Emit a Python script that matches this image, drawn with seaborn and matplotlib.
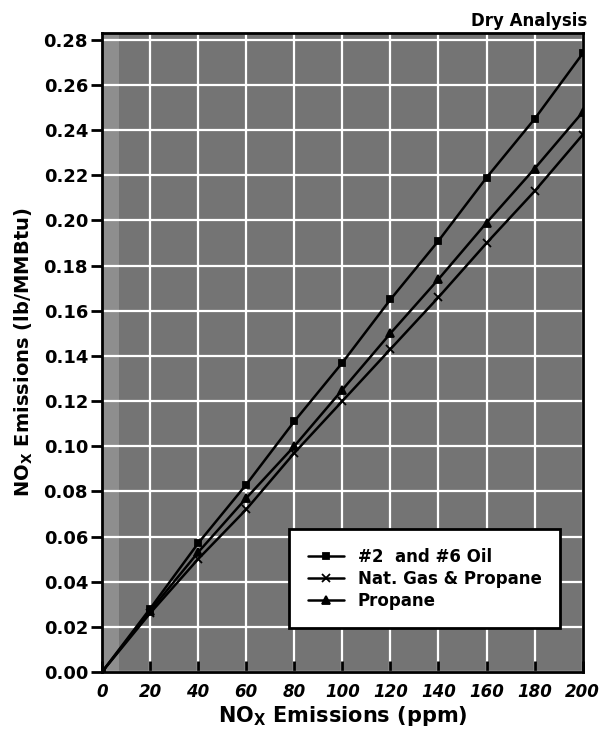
import matplotlib
matplotlib.use("Agg")
import matplotlib.pyplot as plt
import seaborn as sns
import pandas as pd

ppm = [0, 20, 40, 60, 80, 100, 120, 140, 160, 180, 200]
oil = [0.0, 0.028, 0.057, 0.083, 0.111, 0.137, 0.165, 0.191, 0.219, 0.245, 0.274]
natgas = [0.0, 0.026, 0.050, 0.072, 0.097, 0.120, 0.143, 0.166, 0.190, 0.213, 0.238]
propane = [0.0, 0.027, 0.053, 0.077, 0.100, 0.125, 0.150, 0.174, 0.199, 0.223, 0.248]
series_names = ["#2  and #6 Oil", "Nat. Gas & Propane", "Propane"]
xticks = [0, 20, 40, 60, 80, 100, 120, 140, 160, 180, 200]
yticks = [0.00, 0.02, 0.04, 0.06, 0.08, 0.10, 0.12, 0.14, 0.16, 0.18, 0.20, 0.22, 0.24, 0.26, 0.28]

sns.set_theme(style="white")
plt.rcParams['font.family'] = ['DejaVu Sans']
plt.rcParams['text.color'] = 'black'
plt.rcParams['axes.labelcolor'] = 'black'
plt.rcParams['xtick.color'] = 'black'
plt.rcParams['ytick.color'] = 'black'

fig = plt.figure(figsize=(6.07, 7.36), dpi=100)
ax = fig.add_axes([0.168, 0.087, 0.792, 0.868])
ax.set_facecolor("#747474")
ax.axvspan(0, 7, color="#8e8e8e", zorder=0, lw=0)

markers = ["s", "x", "^"]
msizes = [4, 6, 6]
for name, vals, mk, ms in zip(series_names, [oil, natgas, propane], markers, msizes):
    sns.lineplot(x=ppm, y=vals, color="black", marker=mk, markersize=ms,
                 markeredgewidth=1.3, markeredgecolor="black", linewidth=1.8,
                 ax=ax, label=name, zorder=3)

ax.set_xlim(0, 200)
ax.set_ylim(0, 0.283)
ax.set_xticks(xticks)
ax.set_yticks(yticks)
ax.grid(True, color="white", linewidth=1.6, zorder=1)
ax.set_axisbelow(True)
ax.set_xticklabels([str(v) for v in xticks], fontsize=12, fontweight="bold", fontstyle="italic")
ax.set_yticklabels([f"{v:.2f}" for v in yticks], fontsize=13, fontweight="bold")
ax.tick_params(axis="x", direction="in", length=8, width=2, color="black", pad=8, bottom=True)
ax.tick_params(axis="y", direction="out", length=8, width=2, color="black", pad=2, left=True)
for s in ax.spines.values():
    s.set_linewidth(2)
    s.set_color("black")

ax.set_xlabel("NO$_\\mathregular{X}$ Emissions (ppm)", fontsize=15, fontweight="bold", labelpad=2)
ax.set_ylabel("NO$_\\mathregular{X}$ Emissions (lb/MMBtu)", fontsize=14, fontweight="bold", labelpad=6)

leg = ax.legend(loc="lower right", bbox_to_anchor=(0.970, 0.055),
                prop={"weight": "bold", "size": 12}, frameon=True, fancybox=False,
                borderpad=1.1, handlelength=2.2, labelspacing=0.25)
leg.get_frame().set_edgecolor("black")
leg.get_frame().set_linewidth(2)
leg.get_frame().set_facecolor("white")
leg.get_frame().set_alpha(1)

fig.text(0.968, 0.972, "Dry Analysis", ha="right", va="center", fontsize=12, fontweight="bold")

fig.savefig("out.png", dpi=100)
